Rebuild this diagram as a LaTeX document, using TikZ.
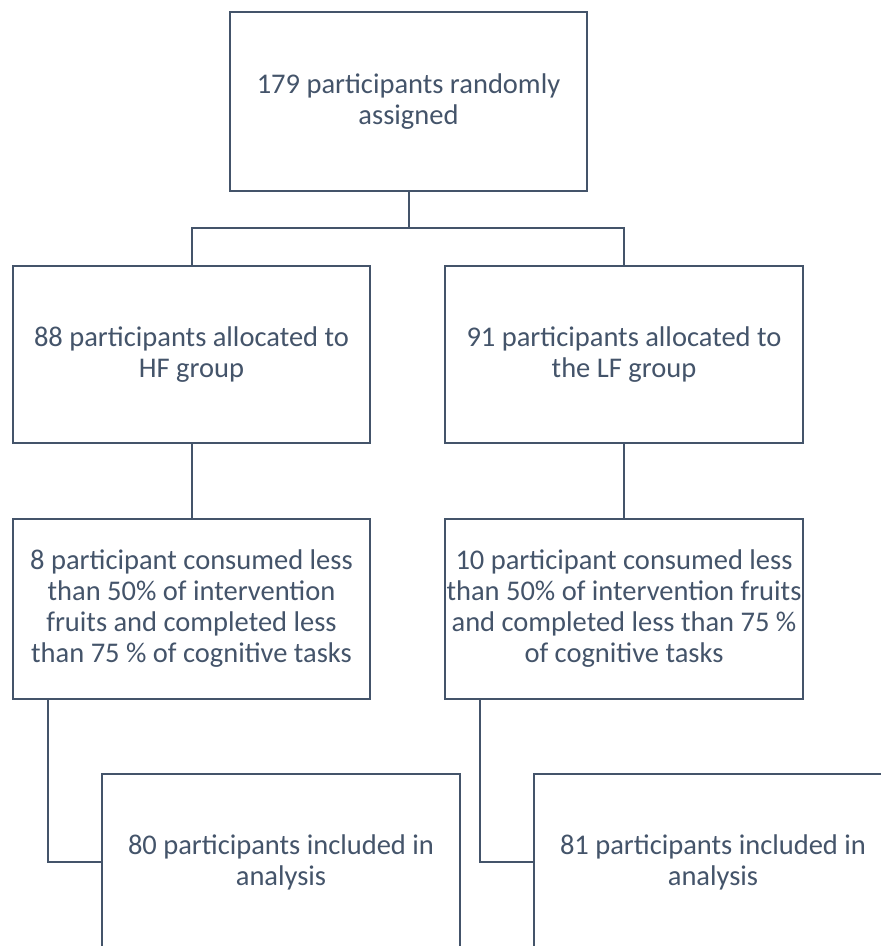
\documentclass[tikz,border=0pt]{standalone}
\usepackage{fontspec}
\setmainfont{Carlito}
\definecolor{slate}{HTML}{44546A}
\begin{document}
\begin{tikzpicture}[x=1pt,y=-1pt,
  box/.style={draw=slate,line width=2pt,rectangle,align=center,text=slate,
    font=\fontsize{28.5}{31}\selectfont,inner sep=0pt},
  link/.style={draw=slate,line width=2pt}]
\useasboundingbox[fill=white] (0,0) rectangle (881,946);
\clip (0,0) rectangle (881,946);
\node[box,minimum width=357pt,minimum height=179pt] (top) at (408.5,101.5) {179 participants randomly\\assigned};
\node[box,minimum width=357pt,minimum height=177pt] (hf) at (191.5,354.5) {88 participants allocated to\\HF group};
\node[box,minimum width=358pt,minimum height=177pt] (lf) at (624,354.5) {91 participants allocated to\\the LF group};
\node[box,minimum width=357pt,minimum height=180pt] (hfx) at (191.5,608.5) {8 participant consumed less\\than 50\% of intervention\\fruits and completed less\\than 75 \% of cognitive tasks};
\node[box,minimum width=358pt,minimum height=180pt] (lfx) at (624,608.5) {10 participant consumed less\\than 50\% of intervention fruits\\and completed less than 75 \%\\of cognitive tasks};
\node[box,minimum width=358pt,minimum height=176pt] (hfa) at (281,862) {80 participants included in\\analysis};
\node[box,minimum width=358pt,minimum height=176pt] (lfa) at (713,862) {81 participants included in\\analysis};
\coordinate (j) at (408.5,228);
\draw[link] (top.south) -- (j);
\draw[link] (hf.north) |- (j) -| (lf.north);
\draw[link] (hf.south) -- (hfx.north);
\draw[link] (lf.south) -- (lfx.north);
\draw[link] ([xshift=36pt]hfx.south west) |- (hfa.west);
\draw[link] ([xshift=36pt]lfx.south west) |- (lfa.west);
\end{tikzpicture}
\end{document}
